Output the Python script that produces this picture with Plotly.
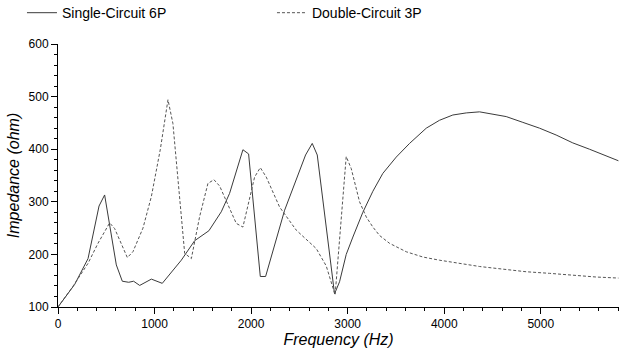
import plotly.graph_objects as go

# Single-Circuit 6P
single_f = [0, 173, 311, 425, 483, 604, 666, 732, 783, 846, 967, 1080, 1277, 1415, 1563,
            1691, 1777, 1915, 1974, 2095, 2150, 2347, 2564, 2633, 2685, 2864, 2916, 2985,
            3054, 3157, 3261, 3364, 3503, 3641, 3814, 3951, 4089, 4228, 4366, 4503, 4642,
            4814, 4987, 5159, 5331, 5504, 5677, 5804]
single_v = [100, 143, 192, 292, 313, 180, 149, 147, 149, 141, 153, 145, 189, 226, 245,
            281, 316, 399, 391, 158, 158, 284, 389, 411, 389, 125, 148, 200,
            233, 280, 320, 354, 385, 411, 440, 455, 465, 469, 471, 467, 462,
            451, 440, 427, 412, 400, 387, 378]

# Double-Circuit 3P
double_f = [0, 150, 311, 414, 535, 587, 718, 776, 880, 967, 1060, 1139, 1190, 1312, 1381,
            1467, 1553, 1615, 1674, 1777, 1846, 1915, 2036, 2095, 2157, 2295, 2468, 2675,
            2778, 2870, 2985, 3037, 3123, 3193, 3261, 3330, 3434, 3607, 3779, 3951, 4158,
            4366, 4607, 4849, 5090, 5331, 5573, 5804]
double_v = [100, 138, 183, 221, 260, 249, 194, 205, 250, 310, 400, 494, 449, 202, 192,
            272, 335, 342, 330, 287, 259, 252, 347, 365, 347, 290, 246, 211,
            178, 123, 386, 363, 300, 271, 252, 236, 221, 205, 195, 189, 183,
            177, 172, 167, 164, 160, 157, 155]

FONT = "Liberation Sans, Arial, sans-serif"

fig = go.Figure()
fig.add_trace(go.Scatter(x=single_f, y=single_v, mode="lines", name="Single-Circuit 6P",
                         line=dict(color="#3a3a3a", width=1)))
fig.add_trace(go.Scatter(x=double_f, y=double_v, mode="lines", name="Double-Circuit 3P",
                         line=dict(color="#555555", width=1, dash="3px,2px")))

fig.update_layout(
    width=619, height=354,
    margin=dict(l=58, r=0, t=44, b=47),
    paper_bgcolor="white", plot_bgcolor="white",
    font=dict(family=FONT, size=12, color="black"),
    showlegend=True,
    legend=dict(orientation="h", xref="container", x=0.0355, xanchor="left",
                yref="container", y=0.963, yanchor="middle",
                font=dict(family=FONT, size=14, color="black"),
                entrywidth=205, entrywidthmode="pixels", bgcolor="rgba(0,0,0,0)"),
)
fig.update_xaxes(
    range=[0, 5810], showgrid=False, zeroline=False,
    showline=True, linecolor="black", linewidth=1,
    ticks="outside", ticklen=6, tickcolor="black", dtick=1000, tick0=0,
    minor=dict(ticks="outside", ticklen=3, dtick=200, tickcolor="black"),
    tickfont=dict(family=FONT, size=12, color="black"),
    title=dict(text="\u00a0\u00a0\u00a0\u00a0Frequency (Hz)", standoff=2,
               font=dict(family=FONT, size=16, color="black", style="italic")),
)
fig.update_yaxes(
    range=[100, 600], showgrid=False, zeroline=False,
    showline=True, linecolor="black", linewidth=1,
    ticks="outside", ticklen=6, tickcolor="black", dtick=100, tick0=0,
    minor=dict(ticks="outside", ticklen=3, dtick=20, tickcolor="black"),
    tickfont=dict(family=FONT, size=12, color="black"),
    title=dict(text="Impedance (ohm)", standoff=4,
               font=dict(family=FONT, size=16, color="black", style="italic")),
)

fig.write_html("out.html")
